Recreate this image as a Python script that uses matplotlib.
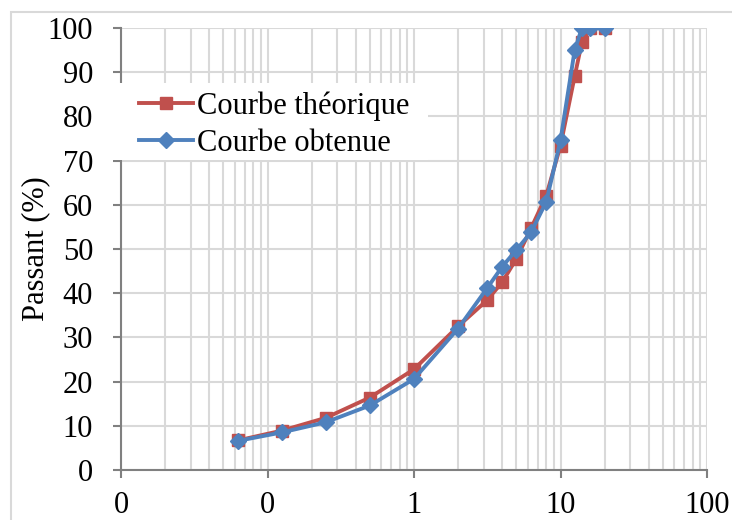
import matplotlib.pyplot as plt
import matplotlib.ticker as mticker
import numpy as np

# tamis (mm)
tamis = [0.063, 0.125, 0.25, 0.5, 1, 2, 3.15, 4, 5, 6.3, 8, 10, 12.5, 14, 16, 20]
theorique = [6.7, 8.9, 11.8, 16.4, 22.8, 32.5, 38.4, 42.5, 47.8, 54.7, 62.1, 73.4, 89.1, 96.8, 100, 100]
obtenue = [6.6, 8.5, 10.8, 14.6, 20.6, 32.0, 41.1, 46.0, 49.8, 53.8, 60.7, 74.6, 95.0, 100, 100, 100]

plt.rcParams["font.family"] = ["Liberation Serif", "DejaVu Serif"]
plt.rcParams["font.size"] = 22

W, H = 732, 520
fig = plt.figure(figsize=(W / 100, H / 100), dpi=100)
ax = fig.add_axes([121 / W, 1 - 470 / H, (707 - 121) / W, (470 - 28) / H])

# cadre du graphique
fig.patches.append(plt.Rectangle((11 / W, -0.1), 1.1, 1 - 12 / H + 0.1,
                                 transform=fig.transFigure, fill=False,
                                 edgecolor='#d9d9d9', linewidth=1.5))

ax.plot(tamis, theorique, color='#C0504D', linewidth=2.8, marker='s', markersize=9,
        label='Courbe théorique', zorder=3)
ax.plot(tamis, obtenue, color='#4F81BD', linewidth=2.8, marker='D', markersize=8.5,
        label='Courbe obtenue', zorder=4)

ax.set_xscale('log')
ax.set_xlim(0.01, 100)
ax.set_ylim(0, 100)
ax.set_yticks(np.arange(0, 101, 10))
ax.xaxis.set_major_locator(mticker.LogLocator(base=10, numticks=10))
ax.xaxis.set_minor_locator(mticker.LogLocator(base=10, subs=np.arange(2, 10), numticks=10))
ax.xaxis.set_major_formatter(mticker.FuncFormatter(lambda v, p: f'{v:.0f}'))
ax.xaxis.set_minor_formatter(mticker.NullFormatter())

ax.grid(True, which='major', color='#d9d9d9', linewidth=1.5, zorder=0)
ax.grid(True, which='minor', axis='x', color='#d9d9d9', linewidth=1.5, zorder=0)
ax.set_axisbelow(True)

for s in ['top', 'right']:
    ax.spines[s].set_visible(False)
for s in ['left', 'bottom']:
    ax.spines[s].set_color('#808080')
    ax.spines[s].set_linewidth(1.5)
ax.tick_params(which='major', direction='out', length=6, width=1.5, color='#808080')
ax.tick_params(which='minor', length=0)
ax.tick_params(axis='y', pad=14)
ax.tick_params(axis='x', pad=9)

ax.set_ylabel('Passant (%)', labelpad=-2)

# fond blanc de la légende
fig.patches.append(plt.Rectangle((113 / W, 1 - 160 / H), (428 - 113) / W, (160 - 83) / H,
                                 transform=fig.transFigure, facecolor='white',
                                 edgecolor='none', zorder=5))
leg = fig.legend(*ax.get_legend_handles_labels(), loc='upper left',
                 bbox_to_anchor=(118 / W, 1 - 70 / H), frameon=False,
                 handlelength=1.75, handletextpad=0.15, borderpad=0.2, labelspacing=0.25)
leg.set_zorder(6)

fig.savefig('out.png', dpi=100)
